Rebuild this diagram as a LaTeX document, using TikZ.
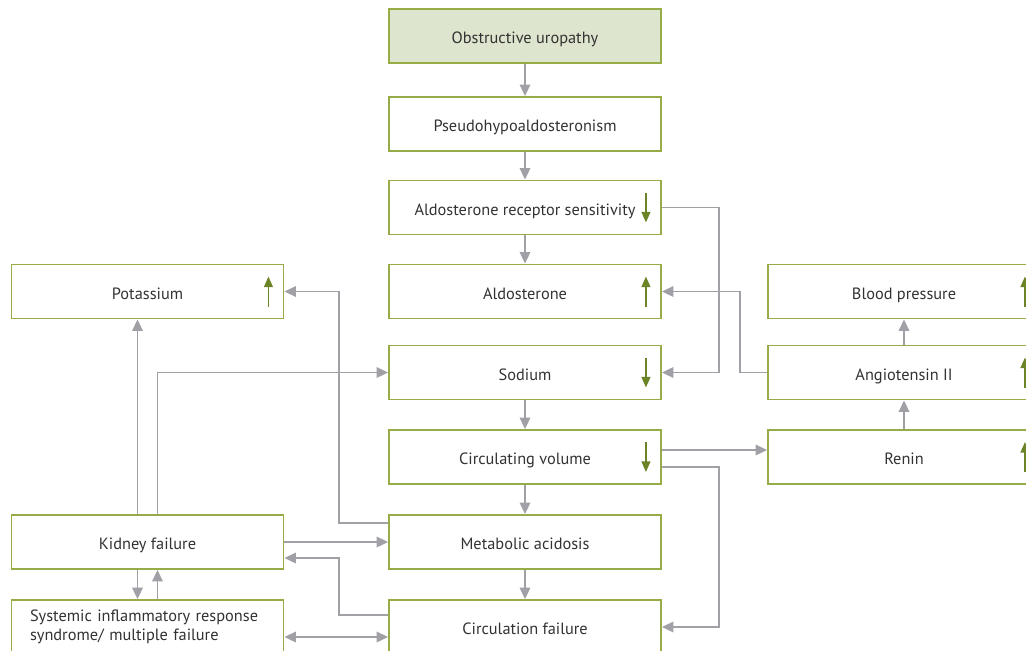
\documentclass[tikz,border=0pt]{standalone}
\usepackage{fontspec}
\setmainfont{PT Sans}
\usetikzlibrary{arrows.meta,calc}
\definecolor{boxgreen}{RGB}{150,172,70}
\definecolor{indgreen}{RGB}{108,132,40}
\definecolor{topfill}{RGB}{222,229,206}
\definecolor{linegray}{RGB}{160,160,166}
\definecolor{textgray}{RGB}{50,50,50}
\tikzset{
frame/.style={draw=boxgreen, line width=1.1pt, minimum width=5.44cm, minimum height=1.08cm, inner sep=0pt, text=textgray},
box/.style={frame, text height=9pt, text depth=0pt},
topbox/.style={box, fill=topfill},
arr/.style={-{Triangle[length=6.5pt,width=6pt]}, linegray, line width=0.85pt},
darr/.style={arr, {Triangle[length=6.5pt,width=6pt]}-{Triangle[length=6.5pt,width=6pt]}},
indicator/.style={-{Triangle[length=6pt,width=5pt]}, indgreen, line width=0.9pt},
}
\tikzstyle{every node}=[font=\fontsize{9.3}{10.8}\selectfont]

\begin{document}
\begin{tikzpicture}[x=0.02cm, y=-0.02cm]
        \clip (0,0) rectangle (1026,650);

        % central column
        \node[topbox] (ou) at (525,36) {Obstructive uropathy};
        \node[box] (ph) at (525,124) {Pseudohypoaldosteronism};
        \node[box] (ars) at (525,207.5) {Aldosterone receptor sensitivity};
        \node[box] (ald) at (525,291.5) {Aldosterone};
        \node[box] (na) at (525,372.5) {Sodium};
        \node[box] (cv) at (525,457) {Circulating volume};
        \node[box] (ma) at (525,542) {Metabolic acidosis};
        \node[box] (cf) at (525,627) {Circulation failure};

        % left column
        \node[box] (k) at (147.5,291.5) {Potassium};
        \node[box] (kf) at (147.5,542) {Kidney failure};
        \node[frame, text width=4.7cm, align=left] (sirs) at (147.5,627)
            {Systemic inflammatory response\\syndrome/ multiple failure};

        % right column
        \node[box] (bp) at (904,291.5) {Blood pressure};
        \node[box] (at) at (904,372.5) {Angiotensin II};
        \node[box] (rn) at (904,457) {Renin};

        % up / down marks
        \foreach \n in {k,ald,bp,at,rn}
            \draw[indicator] ($(\n.east)+(-16,15)$) -- ++(0,-30);
        \foreach \n in {ars,na,cv}
            \draw[indicator] ($(\n.east)+(-16,-15)$) -- ++(0,30);

        % main chain
        \draw[arr] (ou) -- (ph);
        \draw[arr] (ph) -- (ars);
        \draw[arr] (ars) -- (ald);
        \draw[arr] (na) -- (cv);
        \draw[arr] (cv) -- (ma);
        \draw[arr] (ma) -- (cf);

        % right side
        \draw[arr] (ars.east) -- ++(57,0) |- (na.east);
        \draw[arr] (at.west) -- ++(-27,0) |- (ald.east);
        \draw[arr] ($(cv.east)+(0,-7)$) -- ($(rn.west)+(0,-7)$);
        \draw[arr] ($(cv.east)+(0,10)$) -- ++(57,0) |- (cf.east);
        \draw[arr] (rn) -- (at);
        \draw[arr] (at) -- (bp);

        % left side
        \draw[arr] ($(ma.west)+(0,-19)$) -- ++(-49,0) |- (k.east);
        \draw[arr] (kf.east) -- (ma.west);
        \draw[arr] ($(cf.west)+(0,-12)$) -- ++(-49,0) |- ($(kf.east)+(0,16)$);
        \draw[darr] ($(sirs.east)+(0,10)$) -- ($(cf.west)+(0,10)$);
        \draw[arr] ($(kf.south)+(-10,0)$) -- ($(sirs.north)+(-10,0)$);
        \draw[arr] ($(sirs.north)+(10,0)$) -- ($(kf.south)+(10,0)$);
        \draw[arr] ($(kf.north)+(-10,0)$) -- ($(k.south)+(-10,0)$);
        \draw[arr] ($(kf.north)+(10,0)$) |- (na.west);
\end{tikzpicture}
\end{document}
